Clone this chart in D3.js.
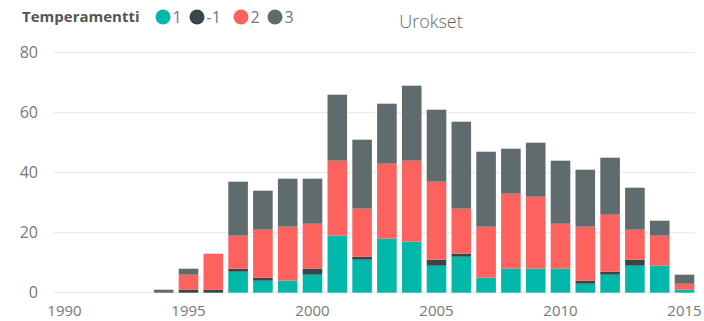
<!DOCTYPE html>
<html><head><meta charset="utf-8">
<script src="https://cdn.jsdelivr.net/npm/d3@7"></script>
<style>
html,body{margin:0;padding:0;background:#fff;}
svg{display:block;font-family:"Open Sans",sans-serif;}
</style></head>
<body><svg id="c" width="704" height="321"></svg>
<script>
const years = [1994,1995,1996,1997,1998,1999,2000,2001,2002,2003,2004,2005,2006,2007,2008,2009,2010,2011,2012,2013,2014,2015];
const s1    = [0,0,0,7,4,4,6,19,11,18,17,9,12,5,8,8,8,3,6,9,9,1];
const sNeg1 = [0,1,1,1,1,0,2,0,1,0,0,2,1,0,0,0,0,1,1,2,0,0];
const s2    = [0,5,12,11,16,18,15,25,16,25,27,26,15,17,25,24,15,18,19,10,10,2];
const s3    = [1,2,0,18,13,16,15,22,23,20,25,24,29,25,15,18,21,19,19,14,5,3];
const seriesNames = ["1","-1","2","3"];
const colors = ["#01B8AA","#374649","#FD625E","#5F6B6D"];
const xTicks = [1990,1995,2000,2005,2010,2015];
const yTicks = [0,20,40,60,80];

const svg = d3.select("#c");
const x = d3.scaleLinear().domain([1990,2015]).range([64.5,684.5]);
const y = d3.scaleLinear().domain([0,80]).range([292.7,52.7]);
const bw = (x(1991)-x(1990))*0.79;

// gridlines
svg.append("g").selectAll("line").data(yTicks).join("line")
  .attr("x1",53).attr("x2",695)
  .attr("y1",d=>y(d)).attr("y2",d=>y(d))
  .attr("stroke","#e8e8e8").attr("stroke-width",1);

// y labels
svg.append("g").selectAll("text").data(yTicks).join("text")
  .attr("x",38).attr("y",d=>y(d)).attr("dy","0.35em")
  .attr("text-anchor","end").attr("fill","#777").attr("font-size",16)
  .text(d=>d);

// x labels
svg.append("g").selectAll("text").data(xTicks).join("text")
  .attr("x",d=>x(d)).attr("y",310.5).attr("dy","0.35em")
  .attr("text-anchor","middle").attr("fill","#777").attr("font-size",15)
  .text(d=>d);

// stacked bars
const table = years.map((yr,i)=>({year:yr,"1":s1[i],"-1":sNeg1[i],"2":s2[i],"3":s3[i]}));
const stack = d3.stack().keys(seriesNames)(table);
svg.append("g").selectAll("g").data(stack).join("g")
  .attr("fill",(d,i)=>colors[i])
  .selectAll("rect").data(d=>d).join("rect")
  .attr("x",d=>x(d.data.year)-bw/2)
  .attr("width",bw)
  .attr("y",d=>y(d[1]))
  .attr("height",d=>Math.max(0,y(d[0])-y(d[1])));

// title
svg.append("text").attr("x",431).attr("y",22).attr("dy","0.35em")
  .attr("text-anchor","middle").attr("fill","#666").attr("font-size",18)
  .attr("font-weight",300).text("Urokset");

// legend
svg.append("text").attr("x",22).attr("y",17).attr("dy","0.35em")
  .attr("fill","#555").attr("font-size",15).attr("font-weight",700)
  .text("Temperamentti");
const lx = [163,197,241,275];
const lg = svg.append("g").selectAll("g").data(seriesNames).join("g")
  .attr("transform",(d,i)=>`translate(${lx[i]},17)`);
lg.append("circle").attr("r",7.5).attr("fill",(d,i)=>colors[i]);
lg.append("text").attr("x",9.5).attr("dy","0.35em").attr("fill","#777")
  .attr("font-size",16).text(d=>d);
</script></body></html>
